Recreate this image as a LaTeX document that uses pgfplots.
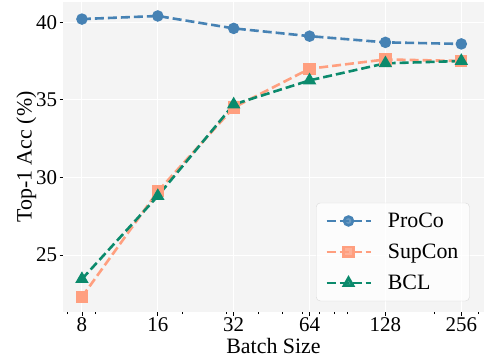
\documentclass[border=0pt]{standalone}
\usepackage{pgfplots}
\pgfplotsset{compat=1.18}
\usepackage{fontspec}
\setmainfont{Liberation Serif}
\definecolor{cProCo}{HTML}{4682B4}
\definecolor{cSup}{HTML}{FF9F7F}
\definecolor{cBCL}{HTML}{0B8A6C}
\definecolor{bg}{HTML}{F4F4F4}
\begin{document}
\begin{tikzpicture}
\begin{axis}[
  name=ax,
  scale only axis, width=421bp, height=310bp,
  xmode=log,
  xmin=6.73, xmax=315, ymin=21.33, ymax=41.3,
  xtick={8,16,32,64,128,256},
  xticklabels={8,16,32,64,128,256},
  ytick={25,30,35,40},
  minor xtick={7,9,20,30,40,50,60,70,80,90,200,300},
  axis line style={draw=none},
  axis background/.style={fill=bg},
  grid=major, major grid style={white, line width=1bp},
  minor grid style={draw=none},
  tick style={black, line width=0.6bp},
  major tick length=3.5bp, minor tick length=2bp,
  tick align=outside, xtick pos=bottom, ytick pos=left,
  /pgf/number format/assume math mode=true,
  ticklabel style={font=\fontsize{21}{22}\selectfont},
  xticklabel style={yshift=1bp},
  yticklabel style={xshift=1bp},
  xlabel={Batch Size}, ylabel={Top-1 Acc (\%)},
  label style={font=\fontsize{22}{24}\selectfont},
  xlabel style={yshift=1bp}, ylabel style={yshift=-7bp},
  legend style={at={(0.601,0.035)}, anchor=south west, fill=white, fill opacity=0.8, text opacity=1, draw=gray!30, rounded corners=4bp, font=\fontsize{22}{26}\selectfont, row sep=11bp, inner xsep=9bp, inner ysep=8bp, column sep=14bp},
  legend cell align=left,
  legend image code/.code={\draw[mark repeat=2, mark phase=2] plot coordinates {(0bp,0bp) (22bp,0bp) (44bp,0bp)};},
  every axis plot/.append style={line width=2.6bp, dash pattern=on 9bp off 4bp},
]
\addplot[color=cProCo, mark=*, mark size=4.4bp, mark options={solid}] coordinates {(8,40.2) (16,40.4) (32,39.6) (64,39.1) (128,38.7) (256,38.6)};
\addlegendentry{ProCo}
\addplot[color=cSup, mark=square*, mark size=4.8bp, mark options={solid}] coordinates {(8,22.3) (16,29.1) (32,34.5) (64,37.0) (128,37.6) (256,37.5)};
\addlegendentry{SupCon}
\addplot[color=cBCL, mark=triangle*, mark size=5.2bp, mark options={solid}] coordinates {(8,23.45) (16,28.8) (32,34.7) (64,36.25) (128,37.35) (256,37.5)};
\addlegendentry{BCL}
\end{axis}
\pgfresetboundingbox
\path (ax.south west) ++(-63bp,-48bp) rectangle ++(484bp,360bp);
\end{tikzpicture}
\end{document}
